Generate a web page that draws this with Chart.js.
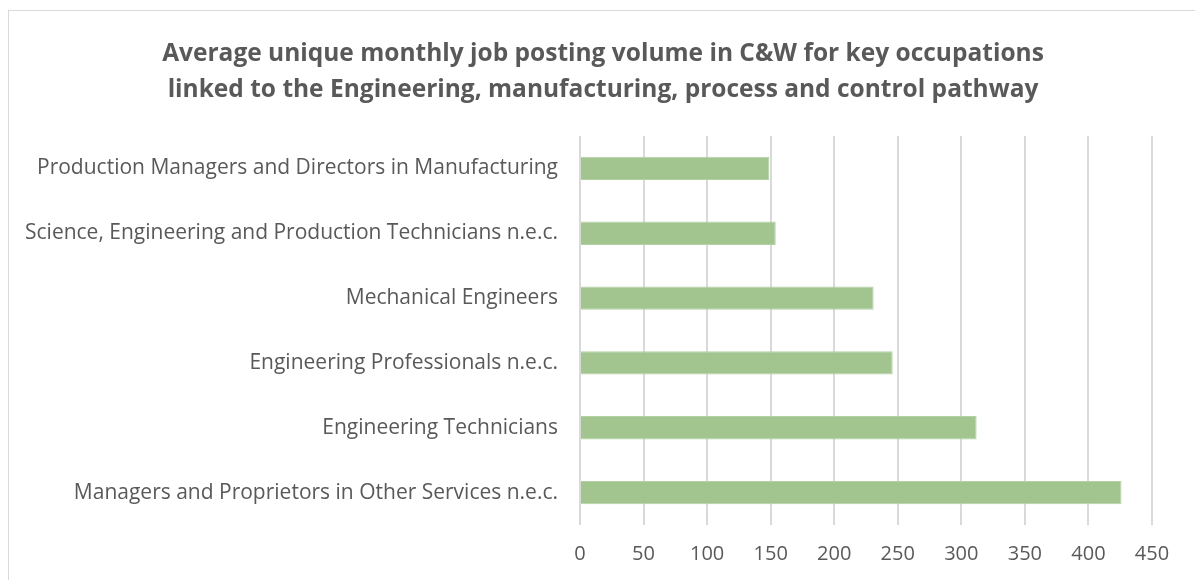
<!DOCTYPE html>
<html>
<head>
<meta charset="utf-8">
<script src="https://cdn.jsdelivr.net/npm/chart.js@4"></script>
<style>
  html, body { margin: 0; padding: 0; background: #fff; }
  #wrap { position: relative; width: 1195px; height: 580px; overflow: hidden; }
  #frame { position: absolute; left: 8px; top: 10px; width: 1200px; height: 600px; border: 1px solid #d9d9d9; box-sizing: border-box; }
  #title {
    position: absolute; left: 0; top: 34px; width: 1206px; text-align: center;
    font: bold 24.5px "Open Sans", Lato, sans-serif; line-height: 36px; color: #595959;
  }
  canvas { position: absolute; left: 0; top: 0; }
</style>
</head>
<body>
<div id="wrap">
  <div id="frame"></div>
  <canvas id="chart" width="1195" height="580"></canvas>
  <div id="title"></div>
</div>
<script>
const titleLines = [
  'Average unique monthly job posting volume in C&W for key occupations',
  'linked to the Engineering, manufacturing, process and control pathway'
];
const occupations = [
  'Production Managers and Directors in Manufacturing',
  'Science, Engineering and Production Technicians n.e.c.',
  'Mechanical Engineers',
  'Engineering Professionals n.e.c.',
  'Engineering Technicians',
  'Managers and Proprietors in Other Services n.e.c.'
];
const postings = [149, 154, 231, 246, 312, 426];
const xMax = 450;
const xStep = 50;

const textColor = '#595959';
const fontFamily = '"Open Sans", Lato, sans-serif';

// title sits in the page so it can be centred on the whole frame
document.getElementById('title').innerHTML = titleLines.join('<br>');

new Chart(document.getElementById('chart'), {
  type: 'bar',
  data: {
    labels: occupations,
    datasets: [{
      data: postings,
      backgroundColor: '#a2c590',
      borderColor: '#b3d1a3',
      borderWidth: 1,
      barPercentage: 0.72,
      categoryPercentage: 0.5
    }]
  },
  options: {
    indexAxis: 'y',
    responsive: false,
    animation: false,
    layout: { padding: { left: 0, right: 43, top: 136, bottom: 0 } },
    plugins: {
      legend: { display: false },
      tooltip: { enabled: false },
      title: { display: false }
    },
    scales: {
      x: {
        min: 0,
        max: xMax,
        afterFit: (scale) => { scale.height = 55; },
        ticks: {
          stepSize: xStep,
          color: textColor,
          font: { family: fontFamily, size: 20 },
          padding: 17
        },
        grid: { color: '#d9d9d9', lineWidth: 2, drawTicks: false },
        border: { display: false }
      },
      y: {
        afterFit: (scale) => { scale.width = 580; },
        ticks: {
          color: textColor,
          font: { family: fontFamily, size: 21 },
          padding: 22
        },
        grid: { display: false, drawTicks: false },
        border: { display: false }
      }
    }
  }
});
</script>
</body>
</html>
